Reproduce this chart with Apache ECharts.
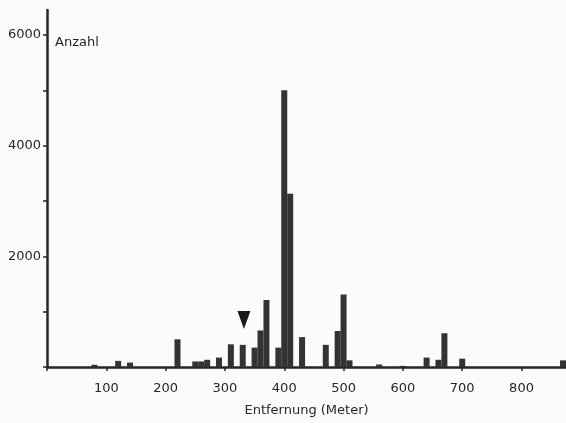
<!DOCTYPE html>
<html>
<head>
<meta charset="utf-8">
<script src="https://cdn.jsdelivr.net/npm/echarts@6/dist/echarts.min.js"></script>
<style>
  html, body { margin: 0; padding: 0; background: #fbfbf9; }
  #chart { width: 566px; height: 423px; }
</style>
</head>
<body>
<div id="chart"></div>
<script>
// Entfernung in Meter (Klassenmitte, 10-m-Klassen)
var distances = [80, 120, 140, 220, 250, 260, 270, 290, 310, 330, 350, 360, 370, 390, 400, 410, 430, 470, 490, 500, 510, 560, 600, 640, 660, 670, 700, 870];
// Anzahl je Klasse
var counts = [40, 110, 80, 500, 100, 100, 130, 170, 410, 400, 350, 660, 1210, 350, 5000, 3130, 540, 400, 650, 1310, 120, 45, 20, 170, 130, 610, 150, 120];
// Markierung (Dreieck)
var marker = [332, 850];

var barData = distances.map(function (d, i) { return [d, counts[i]]; });

var font = 'DejaVu Sans';
var ink = '#262626';

var option = {
    backgroundColor: '#fbfbf9',
    animation: false,
    grid: { left: 47, right: 0, top: 10, bottom: 56, outerBoundsMode: 'none', containLabel: false },
    xAxis: {
        type: 'value',
        min: 0,
        max: 875,
        interval: 100,
        splitLine: { show: false },
        axisLine: { onZero: false, lineStyle: { color: ink, width: 2.5 } },
        axisTick: { show: true, length: 4, lineStyle: { color: ink, width: 1.5 } },
        axisLabel: {
            color: ink, fontFamily: font, fontSize: 13, margin: 15,
            showMaxLabel: false,
            formatter: function (v) { return (v === 0 || v % 100 !== 0) ? '' : String(v); }
        },
        name: 'Entfernung (Meter)',
        nameLocation: 'middle',
        nameGap: 37,
        nameTextStyle: { color: ink, fontFamily: font, fontSize: 13 }
    },
    yAxis: {
        type: 'value',
        min: 0,
        max: 6450,
        interval: 1000,
        splitLine: { show: false },
        axisLine: { show: true, lineStyle: { color: ink, width: 2.5 } },
        axisTick: { show: true, length: 4, lineStyle: { color: ink, width: 1.5 } },
        axisLabel: {
            color: ink, fontFamily: font, fontSize: 13, margin: 6,
            showMaxLabel: false,
            formatter: function (v) { return (v > 0 && v % 2000 === 0) ? String(v) : ''; }
        }
    },
    graphic: [{
        type: 'text',
        left: 55,
        top: 36,
        style: { text: 'Anzahl', fill: ink, font: '13px "DejaVu Sans"' }
    }],
    series: [{
        type: 'bar',
        data: barData,
        barWidth: 6,
        itemStyle: { color: '#333333' },
        markPoint: {
            symbol: 'triangle',
            symbolRotate: 180,
            symbolSize: [13, 18],
            label: { show: false },
            itemStyle: { color: '#1a1a1a' },
            data: [{ coord: marker }]
        }
    }]
};

var myChart = echarts.init(document.getElementById('chart'));
myChart.setOption(option);
</script>
</body>
</html>
